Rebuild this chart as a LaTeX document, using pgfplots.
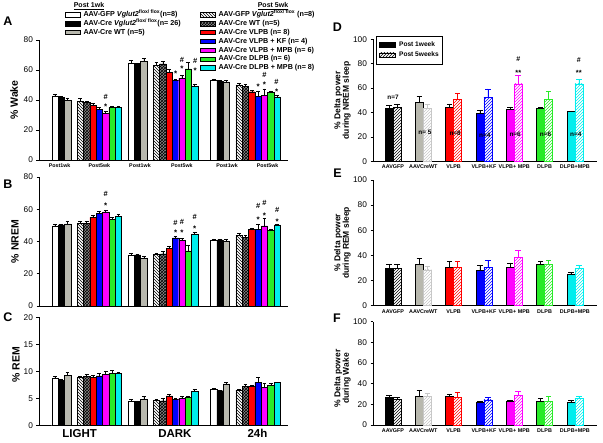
\documentclass[border=0pt]{standalone}
\usepackage{fontspec}
\setmainfont{Liberation Sans}
\usepackage{pgfplots}
\pgfplotsset{compat=1.18}
\usepackage{pgfplotstable}
\usetikzlibrary{patterns}

\definecolor{cgray}{RGB}{184,184,174}
\definecolor{cred}{RGB}{255,0,0}
\definecolor{cblue}{RGB}{0,0,255}
\definecolor{cmag}{RGB}{255,0,255}
\definecolor{cgreen}{RGB}{40,235,40}
\definecolor{ccyan}{RGB}{0,238,238}
\colorlet{c1}{black}\colorlet{c2}{cgray}\colorlet{c3}{cred}\colorlet{c4}{cblue}
\colorlet{c5}{cmag}\colorlet{c6}{cgreen}\colorlet{c7}{ccyan}
\colorlet{h1}{black}\colorlet{h2}{black!22}\colorlet{h3}{cred}\colorlet{h4}{cblue}
\colorlet{h5}{cmag}\colorlet{h6}{cgreen}\colorlet{h7}{ccyan}

\newcommand{\fs}[1]{\fontsize{#1}{#1}\selectfont}

% ---- left panels: rows = LIGHT, DARK, 24h ; xa/xb = first bar position of Post1wk / Post5wk groups
\pgfplotstableread{
xa xb a ae b be c ce d de e ee f fe g ge h he i ie j je
0.5 4.5 42.2 1.8 41.8 0.7 39.6 1.8 39.3 2.0 38.4 1.0 36.2 1.6 33.6 1.6 31.1 1.1 35.1 0.7 35.1 0.9
12.5 16.5 64.7 1.5 64.2 0.5 65.8 2.0 63.3 1.8 64.0 2.0 58.5 2.0 53.0 1.0 54.5 2.0 60.8 4.5 49.2 1.5
25.5 29.5 53.0 1.0 52.5 0.5 52.0 1.2 50.0 1.2 49.0 1.5 45.5 1.0 42.5 3.5 43.0 4.5 45.0 1.0 42.0 1.0
}\wake
\pgfplotstableread{
xa xb a ae b be c ce d de e ee f fe g ge h he i ie j je
0.5 4.5 49.7 1.2 50.3 0.5 50.9 1.5 51.3 1.0 51.3 1.2 54.9 1.2 57.6 1.0 58.4 0.8 53.8 1.2 55.5 1.2
12.5 16.5 31.7 1.0 31.7 0.5 29.6 1.5 32.0 1.0 32.3 1.5 35.8 1.5 42.2 1.0 40.6 1.5 34.2 3.7 44.5 1.2
25.5 29.5 40.6 1.0 41.0 0.4 40.4 1.0 43.9 1.0 42.7 1.0 47.6 0.8 47.6 3.0 49.7 4.5 46.8 1.0 50.3 0.6
}\nrem
\pgfplotstableread{
xa xb a ae b be c ce d de e ee f fe g ge h he i ie j je
0.5 4.5 8.7 0.4 8.4 0.1 9.35 0.5 8.9 0.3 9.05 0.4 8.9 0.4 9.2 0.4 9.5 0.6 9.65 0.6 9.6 0.3
12.5 16.5 4.6 0.3 4.5 0.1 4.9 0.5 4.7 0.2 4.6 0.4 5.5 0.3 4.85 0.2 5.05 0.3 5.2 0.3 6.4 0.3
25.5 29.5 6.7 0.2 6.45 0.1 7.7 0.3 6.6 0.1 7.3 0.3 7.2 0.2 8.0 0.9 7.1 0.8 7.45 0.4 8.0 0.1
}\rem

% ---- right panels: s = Post 1week, h = Post 5weeks
\pgfplotstableread{
x s se h he
1 43.4 2.7 44.3 2.7
2 48.4 4.6 43.4 3.5
3 44.0 3.0 51.0 4.6
4 39.3 2.7 52.5 7.0
5 42.6 2.0 63.4 7.4
6 43.7 0.5 50.8 6.8
7 40.7 0.5 63.4 3.8
}\dnrem
\pgfplotstableread{
x s se h he
1 29.7 3.2 29.7 3.2
2 32.9 4.8 28.4 2.7
3 31.0 4.0 30.5 5.0
4 27.9 4.0 30.5 5.8
5 31.0 3.2 38.5 5.3
6 32.9 2.4 32.9 3.0
7 24.7 1.6 29.7 2.9
}\drem
\pgfplotstableread{
x s se h he
1 26.8 2.3 24.8 1.9
2 28.0 5.8 28.0 2.6
3 27.4 2.6 26.5 5.5
4 22.3 0.6 24.2 2.6
5 23.2 1.0 28.7 3.9
6 22.6 3.5 22.6 4.8
7 21.6 2.6 25.5 2.6
}\dwake

\pgfplotsset{
  lb/.style={bar shift=0pt, draw=black, line width=0.4pt},
  s1/.style={fill=white},
  s2/.style={fill=black},
  s3/.style={fill=cgray},
  s4/.style={fill=white, postaction={pattern=north west lines}},
  s5/.style={fill=black!45, postaction={pattern=crosshatch, pattern color=black}},
  s6/.style={fill=cred},
  s7/.style={fill=cblue},
  s8/.style={fill=cmag},
  s9/.style={fill=cgreen},
  s10/.style={fill=ccyan},
  errs/.style={error bars/y dir=plus, error bars/y explicit,
     error bars/error bar style={line width=0.4pt, black},
     error bars/error mark options={rotate=90, mark size=#1, line width=0.4pt, black}},
  leftax/.style={scale only axis, width=249pt, xmin=-2, xmax=37.2, ymin=0,
     axis lines*=left, tick align=outside, major tick length=2.5pt,
     ybar, bar width=6.35pt, enlargelimits=false, clip=false,
     axis line style={line width=0.5pt}, ytick style={line width=0.5pt, black},
     xtick style={draw=none},
     yticklabel style={font=\fs{8.3}},
     /pgf/number format/assume math mode=true,
     errs=1.9pt},
  rightax/.style={scale only axis, width=224pt, xmin=0.34, xmax=7.73, ymin=0, ymax=100,
     ytick={0,20,40,60,80,100}, xtick={1,2,3,4,5,6,7},
     xticklabels={AAVGFP,AAVCreWT,VLPB,VLPB+KF,VLPB+ MPB,DLPB,DLPB+MPB},
     axis lines*=left, tick align=outside, major tick length=2.5pt,
     ybar, bar width=8pt, enlargelimits=false, clip=false,
     axis line style={line width=0.5pt}, ytick style={line width=0.5pt, black},
     xtick style={draw=none},
     xticklabel style={font=\bfseries\fs{5.4}, inner sep=1pt},
     yticklabel style={font=\fs{8.3}},
     /pgf/number format/assume math mode=true,
     errs=2.8pt},
  legbase/.style={legend style={draw=none, fill=none, inner sep=0pt, anchor=north west,
     font=\bfseries\fs{7.2}, row sep=1.1pt, column sep=2.5pt,
     nodes={inner sep=0.4pt, text height=5.4pt, text depth=1.6pt}, cells={anchor=west}},
     legend cell align=left,
     legend image code/.code={\draw[##1] (0pt,-2.3pt) rectangle (15pt,2.3pt);}},
}

\newcommand{\leftbars}[1]{%
 \addplot[lb,s1] table[x expr=\thisrow{xa},   y=a, y error=ae] {#1};
 \addplot[lb,s2] table[x expr=\thisrow{xa}+1, y=b, y error=be] {#1};
 \addplot[lb,s3] table[x expr=\thisrow{xa}+2, y=c, y error=ce] {#1};
 \addplot[lb,s4] table[x expr=\thisrow{xb},   y=d, y error=de] {#1};
 \addplot[lb,s5] table[x expr=\thisrow{xb}+1, y=e, y error=ee] {#1};
 \addplot[lb,s6] table[x expr=\thisrow{xb}+2, y=f, y error=fe] {#1};
 \addplot[lb,s7] table[x expr=\thisrow{xb}+3, y=g, y error=ge] {#1};
 \addplot[lb,s8] table[x expr=\thisrow{xb}+4, y=h, y error=he] {#1};
 \addplot[lb,s9] table[x expr=\thisrow{xb}+5, y=i, y error=ie] {#1};
 \addplot[lb,s10] table[x expr=\thisrow{xb}+6, y=j, y error=je] {#1};
}
\newcommand{\rightbars}[1]{%
 \pgfplotsinvokeforeach{1,2,3,4,5,6,7}{%
  \addplot[fill=c##1, draw=black, line width=0.4pt, bar shift=-4pt,
     restrict x to domain=##1:##1] table[x=x, y=s, y error=se] {#1};
  \addplot[fill=white, postaction={pattern=north east lines, pattern color=h##1},
     draw=h##1, line width=0.4pt, bar shift=4pt, restrict x to domain=##1:##1,
     error bars/error bar style={h##1},
     error bars/error mark options={rotate=90, mark size=2.8pt, line width=0.4pt, h##1}]
     table[x=x, y=h, y error=he] {#1};
 }%
}
\newcommand{\st}[2]{\node[font=\bfseries\fs{8}, inner sep=0pt, yshift=-1.6pt] at (axis cs:#1,#2) {*};}
\newcommand{\hs}[2]{\node[font=\bfseries\fs{7.5}, inner sep=0pt] at (axis cs:#1,#2) {\#};}

\begin{document}
\begin{tikzpicture}
\useasboundingbox (0pt,0pt) rectangle (603pt,443pt);

% ---------------- A
\begin{axis}[leftax, at={(39pt,283pt)}, anchor=south west, height=120pt, ymax=80,
  ytick={0,20,40,60,80},
  xtick={1.25,7.5,13.9,20.5,27.6,34},
  xticklabels={Post1wk,Post5wk,Post1wk,Post5wk,Post1wk,Post5wk},
  xticklabel style={font=\bfseries\fs{5.3}, inner sep=1pt}]
\leftbars{\wake}
\st{8.5}{36.7}\hs{8.5}{41.8}
\st{19.5}{58.7}
\st{20.5}{62}\hs{20.5}{66.7}
\st{22.6}{60.5}\hs{22.6}{66}
\st{32.5}{50}
\st{33.5}{51}\hs{33.5}{56.7}
\st{35.4}{46.7}\hs{35.4}{52.2}
\node[rotate=90, font=\bfseries\fs{10.5}] at (axis description cs:-0.1,0.5) {\% Wake};
\end{axis}

% ---------------- B
\begin{axis}[leftax, at={(39pt,137pt)}, anchor=south west, height=129pt, ymax=80,
  ytick={0,20,40,60,80}, xtick=\empty]
\leftbars{\nrem}
\st{8.5}{63.2}\hs{8.5}{69.6}
\st{19.5}{46.2}\hs{19.5}{51.4}
\st{20.5}{46.6}\hs{20.5}{52.4}
\st{22.5}{48.9}\hs{22.5}{55.1}
\st{32.5}{54.5}\hs{32.5}{62.3}
\st{33.5}{57.1}\hs{33.5}{63.8}
\st{35.5}{53.4}\hs{35.5}{59.6}
\node[rotate=90, font=\bfseries\fs{10.5}] at (axis description cs:-0.096,0.5) {\% NREM};
\end{axis}

% ---------------- C
\begin{axis}[leftax, at={(39pt,17.3pt)}, anchor=south west, height=108.4pt, ymax=20,
  ytick={0,5,10,15,20},
  xtick={4.4,19.4,32.4}, xticklabels={LIGHT,DARK,24h},
  xticklabel style={font=\bfseries\fs{11.5}, inner sep=1pt}]
\leftbars{\rem}
\node[rotate=90, font=\bfseries\fs{10.5}] at (axis description cs:-0.092,0.56) {\% REM};
\end{axis}

% ---------------- D
\begin{axis}[rightax, at={(373pt,281.7pt)}, anchor=south west, height=122pt,
  legend style={at={(0.013,1.027)}, anchor=north west, draw=black, fill=white,
    inner xsep=3pt, inner ysep=5pt, font=\bfseries\fs{6.6}, row sep=3.2pt, column sep=3pt,
    nodes={inner sep=0.6pt, text height=4.8pt, text depth=1.2pt}, cells={anchor=west}},
  legend image code/.code={\draw[#1] (0pt,-2.4pt) rectangle (16pt,2.4pt);}]
\addlegendimage{fill=black, draw=black, line width=0.4pt}
\addlegendimage{fill=white, draw=black, line width=0.4pt, postaction={pattern=north east lines}}
\legend{Post 1week, Post 5weeks}
\rightbars{\dnrem}
\node[font=\bfseries\fs{7.5}, xshift=4pt, yshift=-1.6pt] at (axis cs:5,74) {**};
\node[font=\bfseries\fs{7}, xshift=4pt] at (axis cs:5,83.6) {\#};
\node[font=\bfseries\fs{7.5}, xshift=4pt, yshift=-1.6pt] at (axis cs:7,74) {**};
\node[font=\bfseries\fs{7}, xshift=4pt] at (axis cs:7,83) {\#};
\node[font=\bfseries\fs{6.4}] at (axis cs:1,52.7) {n=7};
\node[font=\bfseries\fs{6.4}] at (axis cs:2.05,24) {n= 5};
\node[font=\bfseries\fs{6.4}] at (axis cs:3.05,23.3) {n=8};
\node[font=\bfseries\fs{6.4}] at (axis cs:4.03,21) {n=4};
\node[font=\bfseries\fs{6.4}] at (axis cs:5.03,22) {n=6};
\node[font=\bfseries\fs{6.4}] at (axis cs:6.03,22) {n=6};
\node[font=\bfseries\fs{6.4}] at (axis cs:7.03,22) {n=4};
\node[rotate=90, align=center, font=\bfseries\fs{8.5}, inner sep=0pt] at (axis description cs:-0.136,0.5) {\% Delta power\\during NREM sleep};
\end{axis}

% ---------------- E
\begin{axis}[rightax, at={(373pt,137.3pt)}, anchor=south west, height=125.7pt]
\rightbars{\drem}
\node[rotate=90, align=center, font=\bfseries\fs{8.5}, inner sep=0pt] at (axis description cs:-0.136,0.5) {\% Delta power\\during REM sleep};
\end{axis}

% ---------------- F
\begin{axis}[rightax, at={(373pt,18pt)}, anchor=south west, height=103.3pt]
\rightbars{\dwake}
\node[rotate=90, align=center, font=\bfseries\fs{8.5}, inner sep=0pt] at (axis description cs:-0.136,0.45) {\% Delta power\\during Wake};
\end{axis}

% ---------------- legends for left panels
\begin{axis}[at={(0pt,0pt)}, anchor=south west, scale only axis, width=603pt, height=443pt,
  hide axis, xmin=0, xmax=1, ymin=0, ymax=1, legbase,
  legend style={at={(0.1078,0.9763)}}]
\addlegendimage{lb,s1}
\addlegendimage{lb,s2}
\addlegendimage{lb,s3}
\legend{AAV-GFP \textit{Vglut2}\textsuperscript{flox/ flox}(n=8), AAV-Cre \textit{Vglut2}\textsuperscript{flox/ flox}(n= 26), AAV-Cre WT (n=5)}
\end{axis}
\begin{axis}[at={(0pt,0pt)}, anchor=south west, scale only axis, width=603pt, height=443pt,
  hide axis, xmin=0, xmax=1, ymin=0, ymax=1, legbase,
  legend style={at={(0.3317,0.9763)}}]
\addlegendimage{lb,s4}
\addlegendimage{lb,s5}
\addlegendimage{lb,s6}
\addlegendimage{lb,s7}
\addlegendimage{lb,s8}
\addlegendimage{lb,s9}
\addlegendimage{lb,s10}
\legend{AAV-GFP \textit{Vglut2}\textsuperscript{flox/ flox} (n=8), AAV-Cre WT (n=5), AAV-Cre VLPB (n= 8), AAV-Cre VLPB + KF (n= 4), AAV-Cre VLPB + MPB (n= 6), AAV-Cre DLPB (n= 6), AAV-Cre DLPB + MPB (n= 8)}
\end{axis}

% ---------------- headers and panel letters
\node[font=\bfseries\fs{7}] at (89pt,437pt) {\underline{Post 1wk}};
\node[font=\bfseries\fs{7}] at (273pt,437pt) {\underline{Post 5wk}};
\node[font=\bfseries\fs{12.5}] at (8pt,422pt) {A};
\node[font=\bfseries\fs{12.5}] at (8pt,259pt) {B};
\node[font=\bfseries\fs{12.5}] at (8pt,126pt) {C};
\node[font=\bfseries\fs{12.5}] at (337.5pt,416pt) {D};
\node[font=\bfseries\fs{12.5}] at (337.5pt,270pt) {E};
\node[font=\bfseries\fs{12.5}] at (337pt,125pt) {F};
\end{tikzpicture}
\end{document}
